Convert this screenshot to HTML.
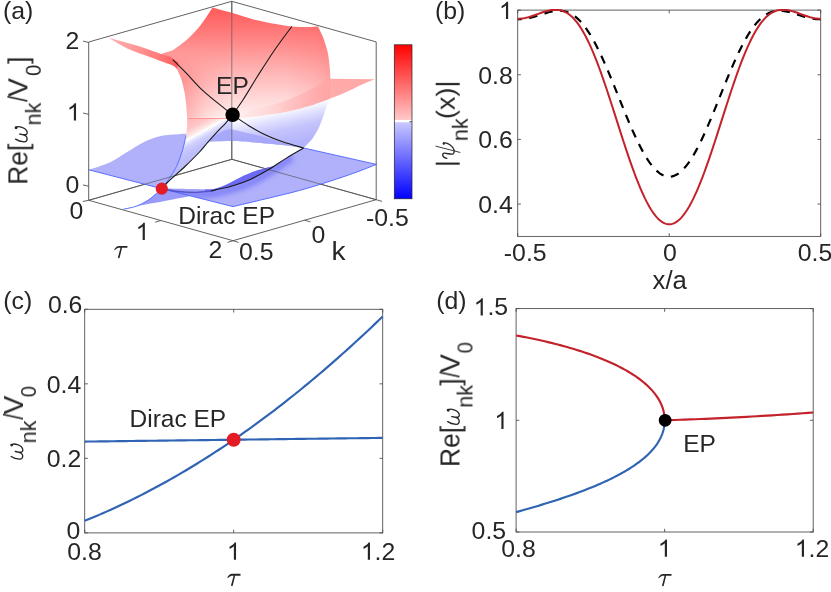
<!DOCTYPE html>
<html><head><meta charset="utf-8"><title>Figure</title>
<style>html,body{margin:0;padding:0;background:#fff;}body{width:831px;height:592px;overflow:hidden;font-family:"Liberation Sans",sans-serif;}svg{display:block;}text{font-family:"Liberation Sans",sans-serif;}</style></head>
<body>
<svg width="831" height="592" viewBox="0 0 831 592" font-family="Liberation Sans, sans-serif">
<rect width="831" height="592" fill="#fff"/>
<defs><filter id="nf" x="-10%" y="-30%" width="120%" height="160%"><feOffset dx="0" dy="0"/></filter></defs>
<defs>
<filter id="b1" x="-20%" y="-50%" width="140%" height="200%"><feGaussianBlur stdDeviation="1.6"/></filter>
<filter id="b2" x="-20%" y="-50%" width="140%" height="200%"><feGaussianBlur stdDeviation="2.5"/></filter>
<filter id="b05" x="-20%" y="-50%" width="140%" height="200%"><feGaussianBlur stdDeviation="0.7"/></filter>
<linearGradient id="gRed" gradientUnits="userSpaceOnUse" x1="0" y1="6" x2="0" y2="118"><stop offset="0" stop-color="#ff5e5e"/><stop offset="0.08" stop-color="#ff6363"/><stop offset="0.30" stop-color="#ff8585"/><stop offset="0.57" stop-color="#ffb2b2"/><stop offset="0.79" stop-color="#ffd3d3"/><stop offset="0.90" stop-color="#ffe2e2"/><stop offset="0.97" stop-color="#fff0f0"/><stop offset="1" stop-color="#fff8f8"/></linearGradient>
<linearGradient id="gRedL" gradientUnits="userSpaceOnUse" x1="178" y1="0" x2="230" y2="0"><stop offset="0" stop-color="#ff6060" stop-opacity="0.52"/><stop offset="0.25" stop-color="#ff6060" stop-opacity="0.34"/><stop offset="0.55" stop-color="#ff6060" stop-opacity="0.15"/><stop offset="1" stop-color="#ff6060" stop-opacity="0"/></linearGradient>
<linearGradient id="gRedR" gradientUnits="userSpaceOnUse" x1="333" y1="0" x2="285" y2="0"><stop offset="0" stop-color="#ff6060" stop-opacity="0.3"/><stop offset="0.4" stop-color="#ff6060" stop-opacity="0.13"/><stop offset="1" stop-color="#ff6060" stop-opacity="0"/></linearGradient>
<linearGradient id="gDiag" gradientUnits="userSpaceOnUse" x1="222.8" y1="97.5" x2="261.5" y2="167.5"><stop offset="0" stop-color="#ffb4b4"/><stop offset="0.14" stop-color="#ffc6c6"/><stop offset="0.215" stop-color="#ffe6e6"/><stop offset="0.25" stop-color="#ffffff"/><stop offset="0.28" stop-color="#e6e6ff"/><stop offset="0.325" stop-color="#cfcffd"/><stop offset="0.40" stop-color="#c0c0fc"/><stop offset="0.56" stop-color="#b8b8fb"/><stop offset="1" stop-color="#b2b2fb"/></linearGradient>
<linearGradient id="gBWr" gradientUnits="userSpaceOnUse" x1="232.5" y1="116" x2="243.65" y2="164.75"><stop offset="0" stop-color="#ffffff"/><stop offset="0.1" stop-color="#fdfdff"/><stop offset="0.3" stop-color="#dedefe"/><stop offset="0.5" stop-color="#c4c4fc"/><stop offset="0.8" stop-color="#b4b4fb"/><stop offset="1" stop-color="#b0b0fb"/></linearGradient>
<linearGradient id="gPinkR" gradientUnits="userSpaceOnUse" x1="235" y1="0" x2="375" y2="0"><stop offset="0" stop-color="#fff2f2"/><stop offset="0.1" stop-color="#ffe6e6"/><stop offset="0.25" stop-color="#ffd6d6"/><stop offset="0.46" stop-color="#ffbaba"/><stop offset="0.64" stop-color="#ffa6a6"/><stop offset="0.69" stop-color="#ffabab"/><stop offset="1" stop-color="#ffa6a6"/></linearGradient>
<linearGradient id="gPinkL" gradientUnits="userSpaceOnUse" x1="108" y1="38" x2="178" y2="66"><stop offset="0" stop-color="#ffb6b6"/><stop offset="0.45" stop-color="#ff9292"/><stop offset="0.8" stop-color="#ff7272"/><stop offset="1" stop-color="#ff5a5a"/></linearGradient>
<linearGradient id="gCB" x1="0" y1="0" x2="0" y2="1"><stop offset="0" stop-color="#ff0000"/><stop offset="0.485" stop-color="#ffc8c8"/><stop offset="0.487" stop-color="#ffffff"/><stop offset="0.503" stop-color="#ffffff"/><stop offset="0.505" stop-color="#c8c8ff"/><stop offset="1" stop-color="#0000ff"/></linearGradient>
<linearGradient id="gMk" gradientUnits="userSpaceOnUse" x1="0" y1="52" x2="0" y2="80"><stop offset="0" stop-color="#000"/><stop offset="1" stop-color="#fff"/></linearGradient><mask id="mL" maskUnits="userSpaceOnUse" x="150" y="0" width="100" height="150"><rect x="150" y="0" width="100" height="150" fill="url(#gMk)"/></mask>
</defs>
<path d="M88.70 200.30 L231.80 159.30 L376.20 199.70 M231.80 159.30 L231.80 1.30" fill="none" stroke="#505050" stroke-width="0.90"/>
<path d=" M88.70 169.80 C92.30 168.53 103.88 165.15 110.30 162.20 C116.72 159.25 121.57 155.47 127.20 152.10 C132.83 148.73 138.47 144.68 144.10 142.00 C149.73 139.32 155.37 137.30 161.00 136.00 C166.63 134.70 173.68 134.57 177.90 134.20 C182.12 133.83 184.90 133.87 186.30 133.80 L186.30 133.80 C186.02 135.17 185.22 139.30 184.60 142.00 C183.98 144.70 183.38 147.33 182.60 150.00 C181.82 152.67 180.92 155.25 179.90 158.00 C178.88 160.75 178.02 163.48 176.50 166.50 C174.98 169.52 173.25 172.40 170.80 176.10 C168.35 179.80 163.30 186.60 161.80 188.70 L88.70 169.80 Z" fill="#b0b0fb"/>
<path d=" M166.00 188.50 C168.33 188.55 175.47 188.70 180.00 188.80 C184.53 188.90 188.38 188.98 193.20 189.10 C198.02 189.22 205.23 189.57 208.90 189.50 C212.57 189.43 212.60 189.35 215.20 188.70 C217.80 188.05 221.53 186.85 224.50 185.60 C227.47 184.35 230.22 182.63 233.00 181.20 C235.78 179.77 237.72 178.60 241.20 177.00 C244.68 175.40 249.98 173.05 253.90 171.60 C257.82 170.15 261.70 169.13 264.70 168.30 C267.70 167.47 269.85 167.28 271.90 166.60 C273.95 165.92 274.58 165.62 277.00 164.20 C279.42 162.78 281.97 160.80 286.40 158.10 C290.83 155.40 300.73 149.68 303.60 148.00 L376.40 164.40 C372.83 165.78 362.73 169.90 355.00 172.70 C347.27 175.50 339.27 178.23 330.00 181.20 C320.73 184.17 310.23 187.53 299.40 190.50 C288.57 193.47 276.07 196.32 265.00 199.00 C253.93 201.68 238.33 205.33 233.00 206.60 L161.80 188.70 Z" fill="#b0b0fb"/>
<clipPath id="cFR"><path d=" M166.00 188.50 C168.33 188.55 175.47 188.70 180.00 188.80 C184.53 188.90 188.38 188.98 193.20 189.10 C198.02 189.22 205.23 189.57 208.90 189.50 C212.57 189.43 212.60 189.35 215.20 188.70 C217.80 188.05 221.53 186.85 224.50 185.60 C227.47 184.35 230.22 182.63 233.00 181.20 C235.78 179.77 237.72 178.60 241.20 177.00 C244.68 175.40 249.98 173.05 253.90 171.60 C257.82 170.15 261.70 169.13 264.70 168.30 C267.70 167.47 269.85 167.28 271.90 166.60 C273.95 165.92 274.58 165.62 277.00 164.20 C279.42 162.78 281.97 160.80 286.40 158.10 C290.83 155.40 300.73 149.68 303.60 148.00 L376.40 164.40 C372.83 165.78 362.73 169.90 355.00 172.70 C347.27 175.50 339.27 178.23 330.00 181.20 C320.73 184.17 310.23 187.53 299.40 190.50 C288.57 193.47 276.07 196.32 265.00 199.00 C253.93 201.68 238.33 205.33 233.00 206.60 L161.80 188.70 Z"/></clipPath>
<g clip-path="url(#cFR)"><path d="M166.00 191.50 C168.33 191.92 175.00 193.42 180.00 194.00 C185.00 194.58 190.33 195.08 196.00 195.00 C201.67 194.92 208.00 194.42 214.00 193.50 C220.00 192.58 226.00 191.25 232.00 189.50 C238.00 187.75 244.50 185.42 250.00 183.00 C255.50 180.58 260.17 177.83 265.00 175.00 C269.83 172.17 274.50 169.00 279.00 166.00 C283.50 163.00 289.83 158.50 292.00 157.00" fill="none" stroke="#7070f7" stroke-width="7.5" stroke-opacity="0.7" filter="url(#b2)"/></g>
<path d=" M205.00 189.60 C206.70 189.45 211.95 189.37 215.20 188.70 C218.45 188.03 221.53 186.85 224.50 185.60 C227.47 184.35 230.22 182.63 233.00 181.20 C235.78 179.77 237.72 178.60 241.20 177.00 C244.68 175.40 249.98 173.05 253.90 171.60 C257.82 170.15 261.70 169.13 264.70 168.30 C267.70 167.47 269.85 167.28 271.90 166.60 C273.95 165.92 276.15 164.60 277.00 164.20 L268.30 169.80 C265.30 171.40 256.32 176.70 250.30 179.40 C244.28 182.10 238.22 184.20 232.20 186.00 C226.18 187.80 218.73 189.33 214.20 190.20 C209.67 191.07 206.53 191.03 205.00 191.20 Z" fill="#6a6af5" filter="url(#b05)"/>
<path d=" M123.30 209.20 C125.42 208.72 131.92 207.77 136.00 206.30 C140.08 204.83 144.42 202.52 147.80 200.40 C151.18 198.28 153.97 195.55 156.30 193.60 C158.63 191.65 160.88 189.52 161.80 188.70 L190.70 196.00 C187.22 196.67 177.52 198.53 169.80 200.00 C162.08 201.47 152.15 203.27 144.40 204.80 C136.65 206.33 126.82 208.47 123.30 209.20 Z" fill="#9a9afa"/>
<path d="M187.00 117.00 L187.20 125.00 C187.05 126.47 186.45 132.33 186.30 133.80 L184.60 142.00 C184.27 143.33 183.38 147.33 182.60 150.00 C181.82 152.67 180.92 155.25 179.90 158.00 C178.88 160.75 178.02 163.48 176.50 166.50 C174.98 169.52 173.25 172.40 170.80 176.10 C168.35 179.80 163.30 186.60 161.80 188.70 L166.90 183.00 C168.25 181.77 171.98 178.35 175.00 175.60 C178.02 172.85 180.92 170.43 185.00 166.50 C189.08 162.57 195.75 155.97 199.50 152.00 C203.25 148.03 206.17 144.25 207.50 142.70 L209.50 141.60 C213.18 141.52 227.92 141.18 231.60 141.10 L232.50 117.00 Z" fill="url(#gDiag)"/>
<path d="M231.60 141.10 L231.00 141.10 C234.38 141.28 242.70 141.55 251.30 142.20 C259.90 142.85 273.88 144.05 282.60 145.00 C291.32 145.95 300.10 147.42 303.60 147.90 L312.10 139.20 C313.03 137.67 316.10 133.08 317.70 130.00 C319.30 126.92 320.43 123.93 321.70 120.70 C322.97 117.47 324.28 113.80 325.30 110.60 C326.32 107.40 327.28 103.38 327.80 101.50 C328.32 99.62 328.30 99.67 328.40 99.30 L320.70 101.90 C319.02 102.50 313.98 104.40 310.60 105.50 C307.22 106.60 303.78 107.57 300.40 108.50 C297.02 109.43 293.68 110.33 290.30 111.10 C286.92 111.87 283.48 112.52 280.10 113.10 C276.72 113.68 275.02 113.90 270.00 114.60 C264.98 115.30 256.25 116.60 250.00 117.30 C243.75 118.00 235.42 118.55 232.50 118.80 L232.50 117.00 Z" fill="url(#gBWr)"/>
<clipPath id="cH"><path d=" M209.50 140.80 C210.42 139.88 212.75 136.93 215.00 135.30 C217.25 133.67 220.58 132.02 223.00 131.00 C225.42 129.98 227.33 129.33 229.50 129.20 C231.67 129.07 233.25 129.60 236.00 130.20 C238.75 130.80 241.17 131.63 246.00 132.80 C250.83 133.97 258.50 135.40 265.00 137.20 C271.50 139.00 278.57 141.82 285.00 143.60 C291.43 145.38 300.50 147.18 303.60 147.90 L303.60 147.90 C300.10 147.42 291.32 145.95 282.60 145.00 C273.88 144.05 259.90 142.85 251.30 142.20 C242.70 141.55 237.97 141.20 231.00 141.10 C224.03 141.00 213.08 141.52 209.50 141.60 Z"/></clipPath>
<path d=" M209.50 140.80 C210.42 139.88 212.75 136.93 215.00 135.30 C217.25 133.67 220.58 132.02 223.00 131.00 C225.42 129.98 227.33 129.33 229.50 129.20 C231.67 129.07 233.25 129.60 236.00 130.20 C238.75 130.80 241.17 131.63 246.00 132.80 C250.83 133.97 258.50 135.40 265.00 137.20 C271.50 139.00 278.57 141.82 285.00 143.60 C291.43 145.38 300.50 147.18 303.60 147.90 L303.60 147.90 C300.10 147.42 291.32 145.95 282.60 145.00 C273.88 144.05 259.90 142.85 251.30 142.20 C242.70 141.55 237.97 141.20 231.00 141.10 C224.03 141.00 213.08 141.52 209.50 141.60 Z" fill="#a2a2fa" fill-opacity="0.8"/>
<path d=" M212.50 7.50 C214.08 7.95 218.77 9.33 222.00 10.20 C225.23 11.07 226.03 11.02 231.90 12.70 C237.77 14.38 248.75 18.20 257.20 20.30 C265.65 22.40 276.83 24.28 282.60 25.30 C288.37 26.32 287.58 26.12 291.80 26.40 C296.02 26.68 303.53 26.98 307.90 27.00 C312.27 27.02 316.32 26.58 318.00 26.50 L323.10 37.20 C323.80 39.45 326.25 46.20 327.30 50.70 C328.35 55.20 328.90 59.52 329.40 64.20 C329.90 68.88 330.27 74.50 330.30 78.80 C330.33 83.10 329.92 86.58 329.60 90.00 C329.28 93.42 328.60 97.75 328.40 99.30 L320.70 101.90 C319.02 102.50 313.98 104.40 310.60 105.50 C307.22 106.60 303.78 107.57 300.40 108.50 C297.02 109.43 293.68 110.33 290.30 111.10 C286.92 111.87 283.48 112.52 280.10 113.10 C276.72 113.68 275.02 113.90 270.00 114.60 C264.98 115.30 256.25 116.60 250.00 117.30 C243.75 118.00 235.42 118.55 232.50 118.80 L187.00 118.60 L187.00 117.50 C186.88 115.58 186.70 110.15 186.30 106.00 C185.90 101.85 185.43 97.10 184.60 92.60 C183.77 88.10 182.57 82.95 181.30 79.00 C180.03 75.05 177.72 70.58 177.00 68.90 L161.00 54.00 L172.80 50.30 C175.05 48.62 182.35 43.58 186.30 40.20 C190.25 36.82 193.55 33.28 196.50 30.00 C199.45 26.72 201.33 24.25 204.00 20.50 C206.67 16.75 211.08 9.67 212.50 7.50 Z" fill="url(#gRed)"/>
<path d=" M212.50 7.50 C214.08 7.95 218.77 9.33 222.00 10.20 C225.23 11.07 226.03 11.02 231.90 12.70 C237.77 14.38 248.75 18.20 257.20 20.30 C265.65 22.40 276.83 24.28 282.60 25.30 C288.37 26.32 287.58 26.12 291.80 26.40 C296.02 26.68 303.53 26.98 307.90 27.00 C312.27 27.02 316.32 26.58 318.00 26.50 L323.10 37.20 C323.80 39.45 326.25 46.20 327.30 50.70 C328.35 55.20 328.90 59.52 329.40 64.20 C329.90 68.88 330.27 74.50 330.30 78.80 C330.33 83.10 329.92 86.58 329.60 90.00 C329.28 93.42 328.60 97.75 328.40 99.30 L320.70 101.90 C319.02 102.50 313.98 104.40 310.60 105.50 C307.22 106.60 303.78 107.57 300.40 108.50 C297.02 109.43 293.68 110.33 290.30 111.10 C286.92 111.87 283.48 112.52 280.10 113.10 C276.72 113.68 275.02 113.90 270.00 114.60 C264.98 115.30 256.25 116.60 250.00 117.30 C243.75 118.00 235.42 118.55 232.50 118.80 L187.00 118.60 L187.00 117.50 C186.88 115.58 186.70 110.15 186.30 106.00 C185.90 101.85 185.43 97.10 184.60 92.60 C183.77 88.10 182.57 82.95 181.30 79.00 C180.03 75.05 177.72 70.58 177.00 68.90 L161.00 54.00 L172.80 50.30 C175.05 48.62 182.35 43.58 186.30 40.20 C190.25 36.82 193.55 33.28 196.50 30.00 C199.45 26.72 201.33 24.25 204.00 20.50 C206.67 16.75 211.08 9.67 212.50 7.50 Z" fill="url(#gRedL)" mask="url(#mL)"/>
<path d=" M212.50 7.50 C214.08 7.95 218.77 9.33 222.00 10.20 C225.23 11.07 226.03 11.02 231.90 12.70 C237.77 14.38 248.75 18.20 257.20 20.30 C265.65 22.40 276.83 24.28 282.60 25.30 C288.37 26.32 287.58 26.12 291.80 26.40 C296.02 26.68 303.53 26.98 307.90 27.00 C312.27 27.02 316.32 26.58 318.00 26.50 L323.10 37.20 C323.80 39.45 326.25 46.20 327.30 50.70 C328.35 55.20 328.90 59.52 329.40 64.20 C329.90 68.88 330.27 74.50 330.30 78.80 C330.33 83.10 329.92 86.58 329.60 90.00 C329.28 93.42 328.60 97.75 328.40 99.30 L320.70 101.90 C319.02 102.50 313.98 104.40 310.60 105.50 C307.22 106.60 303.78 107.57 300.40 108.50 C297.02 109.43 293.68 110.33 290.30 111.10 C286.92 111.87 283.48 112.52 280.10 113.10 C276.72 113.68 275.02 113.90 270.00 114.60 C264.98 115.30 256.25 116.60 250.00 117.30 C243.75 118.00 235.42 118.55 232.50 118.80 L187.00 118.60 L187.00 117.50 C186.88 115.58 186.70 110.15 186.30 106.00 C185.90 101.85 185.43 97.10 184.60 92.60 C183.77 88.10 182.57 82.95 181.30 79.00 C180.03 75.05 177.72 70.58 177.00 68.90 L161.00 54.00 L172.80 50.30 C175.05 48.62 182.35 43.58 186.30 40.20 C190.25 36.82 193.55 33.28 196.50 30.00 C199.45 26.72 201.33 24.25 204.00 20.50 C206.67 16.75 211.08 9.67 212.50 7.50 Z" fill="url(#gRedR)"/>
<clipPath id="cLL"><path d="M187.00 117.00 L187.20 125.00 C187.05 126.47 186.45 132.33 186.30 133.80 L184.60 142.00 C184.27 143.33 183.38 147.33 182.60 150.00 C181.82 152.67 180.92 155.25 179.90 158.00 C178.88 160.75 178.02 163.48 176.50 166.50 C174.98 169.52 173.25 172.40 170.80 176.10 C168.35 179.80 163.30 186.60 161.80 188.70 L166.90 183.00 C168.25 181.77 171.98 178.35 175.00 175.60 C178.02 172.85 180.92 170.43 185.00 166.50 C189.08 162.57 195.75 155.97 199.50 152.00 C203.25 148.03 206.17 144.25 207.50 142.70 L209.50 141.60 C213.18 141.52 227.92 141.18 231.60 141.10 L232.50 117.00 Z"/></clipPath>
<path d="M188 118.8 L231 118.4" stroke="#ff8c8c" stroke-width="3" stroke-opacity="0.85" filter="url(#b05)"/>
<path d=" M232.50 114.20 C235.22 113.53 242.55 111.65 248.80 110.20 C255.05 108.75 264.78 106.80 270.00 105.50 C275.22 104.20 276.72 103.50 280.10 102.40 C283.48 101.30 286.92 100.25 290.30 98.90 C293.68 97.55 297.02 95.90 300.40 94.30 C303.78 92.70 307.22 91.07 310.60 89.30 C313.98 87.53 317.42 85.45 320.70 83.70 C323.98 81.95 328.70 79.62 330.30 78.80 L374.90 79.30 L374.90 79.30 C372.78 80.17 367.13 82.30 362.20 84.50 C357.27 86.70 350.93 90.03 345.30 92.50 C339.67 94.97 331.22 98.17 328.40 99.30 L320.70 101.90 C319.02 102.50 313.98 104.40 310.60 105.50 C307.22 106.60 303.78 107.57 300.40 108.50 C297.02 109.43 293.68 110.33 290.30 111.10 C286.92 111.87 283.48 112.52 280.10 113.10 C276.72 113.68 275.02 113.90 270.00 114.60 C264.98 115.30 256.25 116.60 250.00 117.30 C243.75 118.00 235.42 118.55 232.50 118.80 Z" fill="url(#gPinkR)"/>
<path d="M330.3 78.8 L328.4 99.3" stroke="#ff9c9c" stroke-width="1.2" stroke-opacity="0.5"/>
<path d=" M108.60 37.70 C113.12 38.97 126.97 42.58 135.70 45.30 C144.43 48.02 156.78 52.55 161.00 54.00 L170.00 56.50 C171.42 57.50 177.08 61.50 178.50 62.50 L177.00 68.90 C176.30 68.33 176.87 67.33 172.80 65.50 C168.73 63.67 160.20 60.75 152.60 57.90 C145.00 55.05 134.53 51.77 127.20 48.40 C119.87 45.03 111.70 39.48 108.60 37.70 Z" fill="url(#gPinkL)"/>
<path d="M88.7 169.8 L161.8 188.7 L233 206.6" fill="none" stroke="#4a64ff" stroke-width="0.9"/>
<path d="M376.40 164.40 C372.83 165.78 362.73 169.90 355.00 172.70 C347.27 175.50 339.27 178.23 330.00 181.20 C320.73 184.17 310.23 187.53 299.40 190.50 C288.57 193.47 276.07 196.32 265.00 199.00 C253.93 201.68 238.33 205.33 233.00 206.60" fill="none" stroke="#4a64ff" stroke-width="0.9"/>
<path d="M303.7 148 L376.4 164.4" fill="none" stroke="#4a64ff" stroke-width="0.9"/>
<path d="M123.30 209.20 C125.42 208.72 131.92 207.77 136.00 206.30 C140.08 204.83 144.42 202.52 147.80 200.40 C151.18 198.28 153.97 195.55 156.30 193.60 C158.63 191.65 159.38 191.62 161.80 188.70 C164.22 185.78 168.35 179.80 170.80 176.10 C173.25 172.40 174.98 169.52 176.50 166.50 C178.02 163.48 178.88 160.75 179.90 158.00 C180.92 155.25 181.82 152.67 182.60 150.00 C183.38 147.33 184.03 144.42 184.60 142.00 C185.17 139.58 185.77 136.58 186.00 135.50" fill="none" stroke="#4a64ff" stroke-width="0.9"/>
<path d="M88.70 200.30 L231.80 159.30 L376.20 199.70 M231.80 159.30 L231.80 1.30" fill="none" stroke="#505050" stroke-width="0.90" stroke-opacity="0.7"/>
<path d="M88.70 200.30 L88.70 42.00 L231.80 1.30 L376.20 41.90 L376.20 199.70 M88.70 200.30 L233.00 240.70 L376.20 199.70" fill="none" stroke="#505050" stroke-width="0.90"/>
<path d="M88.70 42.50 L83.00 41.10 M88.70 114.40 L83.00 113.00 M88.70 186.30 L83.00 184.90 M88.70 200.30 L82.80 201.50 M160.90 220.50 L155.20 222.20 M233.00 240.70 L227.50 242.40 M233.00 240.70 L238.60 242.40 M304.60 220.20 L310.40 221.90 M376.20 199.70 L382.00 201.40" fill="none" stroke="#505050" stroke-width="0.90"/>
<path d="M172.80 59.60 C175.05 61.85 181.23 67.88 186.30 73.10 C191.37 78.32 196.75 84.93 203.20 90.90 C209.65 96.87 220.12 104.92 225.00 108.90 C229.88 112.88 231.25 113.82 232.50 114.80" fill="none" stroke="#181818" stroke-width="1.08"/>
<path d="M291.80 26.50 C288.85 30.53 279.87 42.32 274.10 50.70 C268.33 59.08 262.40 68.58 257.20 76.80 C252.00 85.02 247.02 93.67 242.90 100.00 C238.78 106.33 234.23 112.33 232.50 114.80" fill="none" stroke="#181818" stroke-width="1.08"/>
<path d="M232.50 114.80 C231.40 116.13 228.27 120.15 225.90 122.80 C223.53 125.45 221.37 127.38 218.30 130.70 C215.23 134.02 210.63 139.15 207.50 142.70 C204.37 146.25 203.25 148.03 199.50 152.00 C195.75 155.97 189.08 162.57 185.00 166.50 C180.92 170.43 178.02 172.85 175.00 175.60 C171.98 178.35 169.10 180.82 166.90 183.00 C164.70 185.18 162.65 187.75 161.80 188.70" fill="none" stroke="#181818" stroke-width="1.08"/>
<path d="M232.50 114.80 C235.22 116.62 243.27 122.33 248.80 125.70 C254.33 129.07 260.07 132.32 265.70 135.00 C271.33 137.68 276.28 139.63 282.60 141.80 C288.92 143.97 300.10 146.97 303.60 148.00" fill="none" stroke="#181818" stroke-width="1.08"/>
<path d="M166.00 189.60 C168.00 189.92 172.98 191.03 178.00 191.50 C183.02 191.97 191.10 192.42 196.10 192.40 C201.10 192.38 204.68 191.82 208.00 191.40 C211.32 190.98 214.67 190.15 216.00 189.90" fill="none" stroke="#4848c0" stroke-width="1.5" stroke-opacity="0.8" filter="url(#b05)"/>
<path d="M211.00 191.00 C211.53 190.87 210.67 191.03 214.20 190.20 C217.73 189.37 226.18 187.80 232.20 186.00 C238.22 184.20 244.28 182.10 250.30 179.40 C256.32 176.70 262.28 173.35 268.30 169.80 C274.32 166.25 280.52 161.73 286.40 158.10 C292.28 154.47 300.73 149.68 303.60 148.00" fill="none" stroke="#181818" stroke-width="1.08"/>
<circle cx="232.6" cy="114.8" r="7.2" fill="#000"/>
<circle cx="161.8" cy="188.7" r="6.1" fill="#e41a24"/>
<rect x="394.3" y="44.8" width="17.7" height="154" fill="url(#gCB)" stroke="#222" stroke-width="0.7"/>
<path d="M412 121.7 h-2.5" stroke="#222" stroke-width="0.8"/>
<text filter="url(#nf)" transform="translate(2.9 19.2) scale(1.035 1)" font-size="24.00" text-anchor="start" fill="#262626" >(a)</text>
<text filter="url(#nf)" transform="translate(79.3 48.8) scale(1.035 1)" font-size="24.00" text-anchor="end" fill="#262626" >2</text>
<path transform="translate(66.79 120.55) scale(0.01213 -0.01172)" d="M763 0H583V1147Q518 1085 412.5 1023T223 930V1104Q373 1174.5 485 1275T644 1470H763Z" fill="#262626"/>
<text filter="url(#nf)" transform="translate(79.3 193.2) scale(1.035 1)" font-size="24.00" text-anchor="end" fill="#262626" >0</text>
<text filter="url(#nf)" transform="translate(76.3 219.3) scale(1.035 1)" font-size="24.00" text-anchor="middle" fill="#262626" >0</text>
<path transform="translate(135.59 239.95) scale(0.01213 -0.01172)" d="M763 0H583V1147Q518 1085 412.5 1023T223 930V1104Q373 1174.5 485 1275T644 1470H763Z" fill="#262626"/>
<text filter="url(#nf)" transform="translate(215.3 258.2) scale(1.035 1)" font-size="24.00" text-anchor="middle" fill="#262626" >2</text>
<text filter="url(#nf)" transform="translate(256.3 260.0) scale(1.035 1)" font-size="24.00" text-anchor="middle" fill="#262626" >0.5</text>
<text filter="url(#nf)" transform="translate(318.3 242.5) scale(1.035 1)" font-size="24.00" text-anchor="middle" fill="#262626" >0</text>
<text filter="url(#nf)" transform="translate(387.3 226.4) scale(1.035 1)" font-size="24.00" text-anchor="middle" fill="#262626" >-0.5</text>
<text filter="url(#nf)" transform="translate(331.5 259.8) scale(1.080 1)" font-size="26.00" text-anchor="start" fill="#262626" >k</text>
<path transform="translate(113.90 245.90)" d="M13.5 0.15 L13.5 1.95 L8.15 1.95 L5.75 11.7 C5.5 12.5 3.9 12.4 4.05 11.5 L6.6 1.95 L5.0 1.95 C3.5 1.95 2.3 2.9 0.9 4.4 L0.2 3.8 C1.6 1.6 3.0 0.15 5.2 0.15 Z" fill="#262626"/>
<text filter="url(#nf)" transform="translate(216.1 93.5) scale(1.022 1)" font-size="24.00" text-anchor="start" fill="#262626" >EP</text>
<text filter="url(#nf)" transform="translate(178.3 224.3) scale(1.022 1)" font-size="24.00" text-anchor="start" fill="#262626" >Dirac EP</text>
<text filter="url(#nf)" transform="translate(27.40 184.77) rotate(-90) scale(0.980 1)" font-size="27.00" fill="#262626">Re[</text>
<g transform="translate(27.40 142.2) rotate(-90)" fill="none" stroke="#262626" stroke-width="1.35" stroke-linecap="round" stroke-linejoin="round"><path d="M3.1 -11.8 C1.5 -9.5 0.6 -6 0.4 -3.4 C0.3 -1.3 1.7 -0.3 3.5 -0.3 C5.5 -0.3 6.8 -2 7.3 -4 C7.7 -5.6 8 -6.8 8.1 -7.7 C7.6 -5 7.1 -2.6 7.7 -1.1 C8.2 -0.2 9.2 -0.1 10 -0.2 C12.3 -0.6 14 -2.8 14.9 -5.5 C15.6 -7.6 15.9 -9.6 15.1 -10.9"/><circle cx="14.5" cy="-11.3" r="0.8" fill="#262626"/></g>
<text filter="url(#nf)" transform="translate(40.80 125.43) rotate(-90) scale(1.000 1)" font-size="21.50" fill="#262626">nk</text>
<text filter="url(#nf)" transform="translate(27.40 101.80) rotate(-90) scale(0.800 1)" font-size="27.00" fill="#262626">/</text>
<text filter="url(#nf)" transform="translate(27.40 96.82) rotate(-90) scale(1.040 1)" font-size="27.00" fill="#262626">V</text>
<text filter="url(#nf)" transform="translate(40.80 76.00) rotate(-90) scale(0.950 1)" font-size="21.50" fill="#262626">0</text>
<text filter="url(#nf)" transform="translate(27.40 63.91) rotate(-90) scale(0.980 1)" font-size="27.00" fill="#262626">]</text>
<rect x="517.70" y="10.10" width="303.00" height="226.30" fill="none" stroke="#505050" stroke-width="0.9"/>
<path d="M517.70 236.40 v-3.20 M517.70 10.10 v3.20" stroke="#505050" stroke-width="0.9"/>
<path d="M669.20 236.40 v-3.20 M669.20 10.10 v3.20" stroke="#505050" stroke-width="0.9"/>
<path d="M820.70 236.40 v-3.20 M820.70 10.10 v3.20" stroke="#505050" stroke-width="0.9"/>
<path d="M517.70 204.07 h3.20 M820.70 204.07 h-3.20" stroke="#505050" stroke-width="0.9"/>
<path d="M517.70 139.41 h3.20 M820.70 139.41 h-3.20" stroke="#505050" stroke-width="0.9"/>
<path d="M517.70 74.76 h3.20 M820.70 74.76 h-3.20" stroke="#505050" stroke-width="0.9"/>
<path d="M517.70 10.10 h3.20 M820.70 10.10 h-3.20" stroke="#505050" stroke-width="0.9"/>
<clipPath id="cb"><rect x="517.70" y="8.60" width="303.00" height="227.80"/></clipPath>
<path d="M517.70 19.28 L519.22 19.26 L520.73 19.19 L522.25 19.08 L523.76 18.92 L525.28 18.73 L526.79 18.48 L528.31 18.20 L529.82 17.88 L531.34 17.52 L532.85 17.13 L534.37 16.71 L535.88 16.27 L537.39 15.80 L538.91 15.32 L540.43 14.83 L541.94 14.33 L543.46 13.84 L544.97 13.36 L546.49 12.89 L548.00 12.45 L549.52 12.04 L551.03 11.67 L552.55 11.35 L554.06 11.08 L555.58 10.88 L557.09 10.74 L558.61 10.68 L560.12 10.70 L561.63 10.81 L563.15 11.01 L564.67 11.31 L566.18 11.71 L567.70 12.23 L569.21 12.86 L570.73 13.61 L572.24 14.48 L573.75 15.47 L575.27 16.60 L576.79 17.85 L578.30 19.23 L579.82 20.75 L581.33 22.40 L582.85 24.18 L584.36 26.09 L585.88 28.14 L587.39 30.31 L588.91 32.61 L590.42 35.04 L591.94 37.59 L593.45 40.26 L594.97 43.05 L596.48 45.94 L598.00 48.94 L599.51 52.04 L601.03 55.23 L602.54 58.51 L604.06 61.87 L605.57 65.31 L607.09 68.82 L608.60 72.38 L610.12 76.00 L611.63 79.67 L613.15 83.37 L614.66 87.10 L616.18 90.85 L617.69 94.62 L619.21 98.39 L620.72 102.15 L622.24 105.90 L623.75 109.64 L625.27 113.34 L626.78 117.01 L628.30 120.63 L629.81 124.19 L631.33 127.70 L632.84 131.14 L634.36 134.50 L635.87 137.77 L637.39 140.95 L638.90 144.04 L640.42 147.02 L641.93 149.88 L643.45 152.63 L644.96 155.26 L646.48 157.75 L647.99 160.11 L649.50 162.33 L651.02 164.41 L652.54 166.33 L654.05 168.10 L655.57 169.72 L657.08 171.17 L658.60 172.46 L660.11 173.58 L661.62 174.54 L663.14 175.32 L664.66 175.93 L666.17 176.37 L667.69 176.63 L669.20 176.72 L670.72 176.63 L672.23 176.37 L673.75 175.93 L675.26 175.32 L676.78 174.54 L678.29 173.58 L679.81 172.46 L681.32 171.17 L682.84 169.72 L684.35 168.10 L685.87 166.33 L687.38 164.41 L688.90 162.33 L690.41 160.11 L691.93 157.75 L693.44 155.26 L694.96 152.63 L696.47 149.88 L697.99 147.02 L699.50 144.04 L701.01 140.95 L702.53 137.77 L704.05 134.50 L705.56 131.14 L707.08 127.70 L708.59 124.19 L710.11 120.63 L711.62 117.01 L713.13 113.34 L714.65 109.64 L716.17 105.90 L717.68 102.15 L719.20 98.39 L720.71 94.62 L722.23 90.85 L723.74 87.10 L725.26 83.37 L726.77 79.67 L728.29 76.00 L729.80 72.38 L731.32 68.82 L732.83 65.31 L734.35 61.87 L735.86 58.51 L737.38 55.23 L738.89 52.04 L740.41 48.94 L741.92 45.94 L743.44 43.05 L744.95 40.26 L746.47 37.59 L747.98 35.04 L749.50 32.61 L751.01 30.31 L752.53 28.14 L754.04 26.09 L755.56 24.18 L757.07 22.40 L758.59 20.75 L760.10 19.23 L761.62 17.85 L763.13 16.60 L764.65 15.47 L766.16 14.48 L767.68 13.61 L769.19 12.86 L770.71 12.23 L772.22 11.71 L773.74 11.31 L775.25 11.01 L776.77 10.81 L778.28 10.70 L779.80 10.68 L781.31 10.74 L782.83 10.88 L784.34 11.08 L785.86 11.35 L787.37 11.67 L788.88 12.04 L790.40 12.45 L791.92 12.89 L793.43 13.36 L794.95 13.84 L796.46 14.33 L797.98 14.83 L799.49 15.32 L801.01 15.80 L802.52 16.27 L804.04 16.71 L805.55 17.13 L807.07 17.52 L808.58 17.88 L810.10 18.20 L811.61 18.48 L813.12 18.73 L814.64 18.92 L816.15 19.08 L817.67 19.19 L819.19 19.26 L820.70 19.28" fill="none" stroke="#000" stroke-width="2.2" stroke-dasharray="8.5 7.5" stroke-dashoffset="4.5" clip-path="url(#cb)"/>
<path d="M517.70 18.73 L519.22 18.70 L520.73 18.60 L522.25 18.43 L523.76 18.21 L525.28 17.92 L526.79 17.58 L528.31 17.19 L529.82 16.76 L531.34 16.29 L532.85 15.78 L534.37 15.26 L535.88 14.72 L537.39 14.16 L538.91 13.61 L540.43 13.06 L541.94 12.53 L543.46 12.02 L544.97 11.54 L546.49 11.10 L548.00 10.70 L549.52 10.36 L551.03 10.10 L552.55 10.10 L554.06 10.10 L555.58 10.10 L557.09 10.10 L558.61 10.10 L560.12 10.19 L561.63 10.58 L563.15 11.09 L564.67 11.73 L566.18 12.51 L567.70 13.43 L569.21 14.50 L570.73 15.72 L572.24 17.09 L573.75 18.62 L575.27 20.31 L576.79 22.17 L578.30 24.18 L579.82 26.37 L581.33 28.71 L582.85 31.22 L584.36 33.89 L585.88 36.73 L587.39 39.71 L588.91 42.86 L590.42 46.15 L591.94 49.58 L593.45 53.16 L594.97 56.87 L596.48 60.71 L598.00 64.67 L599.51 68.75 L601.03 72.93 L602.54 77.21 L604.06 81.57 L605.57 86.02 L607.09 90.55 L608.60 95.13 L610.12 99.77 L611.63 104.45 L613.15 109.16 L614.66 113.90 L616.18 118.65 L617.69 123.40 L619.21 128.14 L620.72 132.87 L622.24 137.57 L623.75 142.23 L625.27 146.85 L626.78 151.41 L628.30 155.90 L629.81 160.31 L631.33 164.64 L632.84 168.88 L634.36 173.01 L635.87 177.03 L637.39 180.93 L638.90 184.70 L640.42 188.34 L641.93 191.83 L643.45 195.18 L644.96 198.37 L646.48 201.40 L647.99 204.25 L649.50 206.94 L651.02 209.45 L652.54 211.77 L654.05 213.91 L655.57 215.86 L657.08 217.61 L658.60 219.16 L660.11 220.51 L661.62 221.66 L663.14 222.60 L664.66 223.33 L666.17 223.86 L667.69 224.17 L669.20 224.28 L670.72 224.17 L672.23 223.86 L673.75 223.33 L675.26 222.60 L676.78 221.66 L678.29 220.51 L679.81 219.16 L681.32 217.61 L682.84 215.86 L684.35 213.91 L685.87 211.77 L687.38 209.45 L688.90 206.94 L690.41 204.25 L691.93 201.40 L693.44 198.37 L694.96 195.18 L696.47 191.83 L697.99 188.34 L699.50 184.70 L701.01 180.93 L702.53 177.03 L704.05 173.01 L705.56 168.88 L707.08 164.64 L708.59 160.31 L710.11 155.90 L711.62 151.41 L713.13 146.85 L714.65 142.23 L716.17 137.57 L717.68 132.87 L719.20 128.14 L720.71 123.40 L722.23 118.65 L723.74 113.90 L725.26 109.16 L726.77 104.45 L728.29 99.77 L729.80 95.13 L731.32 90.55 L732.83 86.02 L734.35 81.57 L735.86 77.21 L737.38 72.93 L738.89 68.75 L740.41 64.67 L741.92 60.71 L743.44 56.87 L744.95 53.16 L746.47 49.58 L747.98 46.15 L749.50 42.86 L751.01 39.71 L752.53 36.73 L754.04 33.89 L755.56 31.22 L757.07 28.71 L758.59 26.37 L760.10 24.18 L761.62 22.17 L763.13 20.31 L764.65 18.62 L766.16 17.09 L767.68 15.72 L769.19 14.50 L770.71 13.43 L772.22 12.51 L773.74 11.73 L775.25 11.09 L776.77 10.58 L778.28 10.19 L779.80 10.10 L781.31 10.10 L782.83 10.10 L784.34 10.10 L785.86 10.10 L787.37 10.10 L788.88 10.36 L790.40 10.70 L791.92 11.10 L793.43 11.54 L794.95 12.02 L796.46 12.53 L797.98 13.06 L799.49 13.61 L801.01 14.16 L802.52 14.72 L804.04 15.26 L805.55 15.78 L807.07 16.29 L808.58 16.76 L810.10 17.19 L811.61 17.58 L813.12 17.92 L814.64 18.21 L816.15 18.43 L817.67 18.60 L819.19 18.70 L820.70 18.73" fill="none" stroke="#c4222b" stroke-width="2" clip-path="url(#cb)"/>
<text filter="url(#nf)" transform="translate(434.9 19.1) scale(1.035 1)" font-size="24.00" text-anchor="start" fill="#262626" >(b)</text>
<path transform="translate(498.89 19.05) scale(0.01213 -0.01172)" d="M763 0H583V1147Q518 1085 412.5 1023T223 930V1104Q373 1174.5 485 1275T644 1470H763Z" fill="#262626"/>
<text filter="url(#nf)" transform="translate(512.7 83.7) scale(1.035 1)" font-size="24.00" text-anchor="end" fill="#262626" >0.8</text>
<text filter="url(#nf)" transform="translate(512.7 148.4) scale(1.035 1)" font-size="24.00" text-anchor="end" fill="#262626" >0.6</text>
<text filter="url(#nf)" transform="translate(512.7 213.0) scale(1.035 1)" font-size="24.00" text-anchor="end" fill="#262626" >0.4</text>
<text filter="url(#nf)" transform="translate(525.2 260.6) scale(1.035 1)" font-size="24.00" text-anchor="middle" fill="#262626" >-0.5</text>
<text filter="url(#nf)" transform="translate(670.0 260.5) scale(1.035 1)" font-size="24.00" text-anchor="middle" fill="#262626" >0</text>
<text filter="url(#nf)" transform="translate(815.0 260.6) scale(1.035 1)" font-size="24.00" text-anchor="middle" fill="#262626" >0.5</text>
<text filter="url(#nf)" transform="translate(669.7 289.0) scale(1.030 1)" font-size="25.00" text-anchor="middle" fill="#262626" >x/a</text>
<text filter="url(#nf)" transform="translate(454.70 167.02) rotate(-90) scale(1.000 1)" font-size="26.00" fill="#262626">|</text>
<g transform="translate(454.70 163.7) rotate(-90)" fill="none" stroke="#262626" stroke-linecap="round" stroke-linejoin="round"><path d="M5.3 -7.9 C5.8 -9.8 6.8 -11.6 8.4 -12 C9.8 -12.2 10.6 -11.4 10.5 -10 C10.2 -7 9.0 -3.5 9.6 -1.8 C10.2 -0.5 11.5 -0.4 12.7 -0.5 C15 -0.6 17.5 -2.8 19.2 -5.2 C20.5 -7 21.3 -9 20.7 -10.4" stroke-width="1.3"/><path d="M17.5 -18.8 L11.3 5.2" stroke-width="0.9"/><circle cx="20.1" cy="-10.9" r="0.8" fill="#262626"/></g>
<text filter="url(#nf)" transform="translate(467.70 141.13) rotate(-90) scale(1.000 1)" font-size="21.50" fill="#262626">nk</text>
<text filter="url(#nf)" transform="translate(454.70 119.08) rotate(-90) scale(1.040 1)" font-size="26.00" fill="#262626">(x)|</text>
<rect x="84.70" y="309.30" width="298.00" height="223.60" fill="none" stroke="#505050" stroke-width="0.9"/>
<path d="M84.70 532.90 v-3.20 M84.70 309.30 v3.20" stroke="#505050" stroke-width="0.9"/>
<path d="M233.70 532.90 v-3.20 M233.70 309.30 v3.20" stroke="#505050" stroke-width="0.9"/>
<path d="M382.70 532.90 v-3.20 M382.70 309.30 v3.20" stroke="#505050" stroke-width="0.9"/>
<path d="M84.70 532.90 h3.20 M382.70 532.90 h-3.20" stroke="#505050" stroke-width="0.9"/>
<path d="M84.70 458.37 h3.20 M382.70 458.37 h-3.20" stroke="#505050" stroke-width="0.9"/>
<path d="M84.70 383.83 h3.20 M382.70 383.83 h-3.20" stroke="#505050" stroke-width="0.9"/>
<path d="M84.70 309.30 h3.20 M382.70 309.30 h-3.20" stroke="#505050" stroke-width="0.9"/>
<path d="M84.70 441.60 L88.43 441.55 L92.15 441.50 L95.88 441.46 L99.60 441.41 L103.33 441.36 L107.05 441.32 L110.78 441.27 L114.50 441.22 L118.23 441.18 L121.95 441.13 L125.67 441.08 L129.40 441.04 L133.12 440.99 L136.85 440.94 L140.57 440.90 L144.30 440.85 L148.02 440.80 L151.75 440.76 L155.47 440.71 L159.20 440.66 L162.92 440.62 L166.65 440.57 L170.38 440.53 L174.10 440.48 L177.82 440.43 L181.55 440.39 L185.28 440.34 L189.00 440.29 L192.73 440.25 L196.45 440.20 L200.18 440.15 L203.90 440.11 L207.63 440.06 L211.35 440.01 L215.07 439.97 L218.80 439.92 L222.52 439.87 L226.25 439.83 L229.97 439.78 L233.70 439.73 L237.42 439.69 L241.15 439.64 L244.88 439.59 L248.60 439.55 L252.32 439.50 L256.05 439.45 L259.77 439.41 L263.50 439.36 L267.22 439.31 L270.95 439.27 L274.67 439.22 L278.40 439.17 L282.12 439.13 L285.85 439.08 L289.57 439.03 L293.30 438.99 L297.02 438.94 L300.75 438.89 L304.47 438.85 L308.20 438.80 L311.92 438.76 L315.65 438.71 L319.37 438.66 L323.10 438.62 L326.82 438.57 L330.55 438.52 L334.27 438.48 L338.00 438.43 L341.72 438.38 L345.45 438.34 L349.17 438.29 L352.90 438.24 L356.62 438.20 L360.35 438.15 L364.07 438.10 L367.80 438.06 L371.52 438.01 L375.25 437.96 L378.98 437.92 L382.70 437.87" fill="none" stroke="#2f63b3" stroke-width="2.15"/>
<path d="M84.70 520.84 L88.43 519.33 L92.15 517.79 L95.88 516.22 L99.60 514.63 L103.33 513.01 L107.05 511.36 L110.78 509.69 L114.50 507.99 L118.23 506.27 L121.95 504.52 L125.67 502.74 L129.40 500.93 L133.12 499.10 L136.85 497.25 L140.57 495.37 L144.30 493.46 L148.02 491.52 L151.75 489.56 L155.47 487.57 L159.20 485.56 L162.92 483.52 L166.65 481.45 L170.38 479.35 L174.10 477.23 L177.82 475.09 L181.55 472.92 L185.28 470.72 L189.00 468.49 L192.73 466.24 L196.45 463.96 L200.18 461.66 L203.90 459.33 L207.63 456.97 L211.35 454.59 L215.07 452.18 L218.80 449.74 L222.52 447.28 L226.25 444.79 L229.97 442.27 L233.70 439.73 L237.42 437.17 L241.15 434.57 L244.88 431.95 L248.60 429.30 L252.32 426.63 L256.05 423.93 L259.77 421.21 L263.50 418.45 L267.22 415.67 L270.95 412.87 L274.67 410.04 L278.40 407.18 L282.12 404.30 L285.85 401.39 L289.57 398.45 L293.30 395.49 L297.02 392.50 L300.75 389.48 L304.47 386.44 L308.20 383.37 L311.92 380.28 L315.65 377.16 L319.37 374.01 L323.10 370.83 L326.82 367.63 L330.55 364.41 L334.27 361.15 L338.00 357.88 L341.72 354.57 L345.45 351.24 L349.17 347.88 L352.90 344.50 L356.62 341.08 L360.35 337.65 L364.07 334.18 L367.80 330.69 L371.52 327.18 L375.25 323.63 L378.98 320.07 L382.70 316.47" fill="none" stroke="#2f63b3" stroke-width="2.15"/>
<circle cx="233.70" cy="439.73" r="7.0" fill="#e41a24"/>
<text filter="url(#nf)" transform="translate(3.2 309.1) scale(1.035 1)" font-size="24.00" text-anchor="start" fill="#262626" >(c)</text>
<text filter="url(#nf)" transform="translate(80.2 538.8) scale(1.035 1)" font-size="24.00" text-anchor="end" fill="#262626" >0</text>
<text filter="url(#nf)" transform="translate(81.2 467.0) scale(1.035 1)" font-size="24.00" text-anchor="end" fill="#262626" >0.2</text>
<text filter="url(#nf)" transform="translate(81.2 392.5) scale(1.035 1)" font-size="24.00" text-anchor="end" fill="#262626" >0.4</text>
<text filter="url(#nf)" transform="translate(82.4 312.8) scale(1.035 1)" font-size="24.00" text-anchor="end" fill="#262626" >0.6</text>
<text filter="url(#nf)" transform="translate(84.5 559.6) scale(1.035 1)" font-size="24.00" text-anchor="middle" fill="#262626" >0.8</text>
<path transform="translate(226.79 559.65) scale(0.01213 -0.01172)" d="M763 0H583V1147Q518 1085 412.5 1023T223 930V1104Q373 1174.5 485 1275T644 1470H763Z" fill="#262626"/>
<path transform="translate(360.74 559.65) scale(0.01213 -0.01172)" d="M763 0H583V1147Q518 1085 412.5 1023T223 930V1104Q373 1174.5 485 1275T644 1470H763Z" fill="#262626"/>
<text filter="url(#nf)" transform="translate(374.55 559.65) scale(1.035 1)" font-size="24.00" fill="#262626">.</text>
<text filter="url(#nf)" transform="translate(381.45 559.65) scale(1.035 1)" font-size="24.00" fill="#262626">2</text>
<path transform="translate(227.00 573.70)" d="M13.5 0.15 L13.5 1.95 L8.15 1.95 L5.75 11.7 C5.5 12.5 3.9 12.4 4.05 11.5 L6.6 1.95 L5.0 1.95 C3.5 1.95 2.3 2.9 0.9 4.4 L0.2 3.8 C1.6 1.6 3.0 0.15 5.2 0.15 Z" fill="#262626"/>
<text filter="url(#nf)" transform="translate(129.5 427.1) scale(1.022 1)" font-size="24.00" text-anchor="start" fill="#262626" >Dirac EP</text>
<g transform="translate(23.00 459.6) rotate(-90)" fill="none" stroke="#262626" stroke-width="1.35" stroke-linecap="round" stroke-linejoin="round"><path d="M3.1 -11.8 C1.5 -9.5 0.6 -6 0.4 -3.4 C0.3 -1.3 1.7 -0.3 3.5 -0.3 C5.5 -0.3 6.8 -2 7.3 -4 C7.7 -5.6 8 -6.8 8.1 -7.7 C7.6 -5 7.1 -2.6 7.7 -1.1 C8.2 -0.2 9.2 -0.1 10 -0.2 C12.3 -0.6 14 -2.8 14.9 -5.5 C15.6 -7.6 15.9 -9.6 15.1 -10.9"/><circle cx="14.5" cy="-11.3" r="0.8" fill="#262626"/></g>
<text filter="url(#nf)" transform="translate(36.00 443.33) rotate(-90) scale(1.000 1)" font-size="21.50" fill="#262626">nk</text>
<text filter="url(#nf)" transform="translate(23.00 419.60) rotate(-90) scale(0.800 1)" font-size="27.00" fill="#262626">/</text>
<text filter="url(#nf)" transform="translate(23.00 414.42) rotate(-90) scale(1.040 1)" font-size="27.00" fill="#262626">V</text>
<text filter="url(#nf)" transform="translate(36.00 397.30) rotate(-90) scale(0.950 1)" font-size="21.50" fill="#262626">0</text>
<rect x="516.10" y="308.60" width="297.10" height="223.40" fill="none" stroke="#505050" stroke-width="0.9"/>
<path d="M516.10 532.00 v-3.20 M516.10 308.60 v3.20" stroke="#505050" stroke-width="0.9"/>
<path d="M664.65 532.00 v-3.20 M664.65 308.60 v3.20" stroke="#505050" stroke-width="0.9"/>
<path d="M813.20 532.00 v-3.20 M813.20 308.60 v3.20" stroke="#505050" stroke-width="0.9"/>
<path d="M516.10 532.00 h3.20 M813.20 532.00 h-3.20" stroke="#505050" stroke-width="0.9"/>
<path d="M516.10 420.30 h3.20 M813.20 420.30 h-3.20" stroke="#505050" stroke-width="0.9"/>
<path d="M516.10 308.60 h3.20 M813.20 308.60 h-3.20" stroke="#505050" stroke-width="0.9"/>
<path d="M664.65 420.30 L664.63 421.68 L664.55 423.04 L664.44 424.41 L664.27 425.76 L664.05 427.11 L663.79 428.45 L663.48 429.79 L663.13 431.12 L662.72 432.44 L662.27 433.76 L661.77 435.07 L661.22 436.37 L660.63 437.67 L659.98 438.96 L659.29 440.24 L658.56 441.52 L657.77 442.79 L656.94 444.05 L656.06 445.31 L655.13 446.57 L654.15 447.81 L653.13 449.05 L652.06 450.29 L650.94 451.52 L649.77 452.74 L648.56 453.95 L647.30 455.17 L645.99 456.37 L644.63 457.57 L643.23 458.76 L641.78 459.95 L640.28 461.13 L638.73 462.31 L637.13 463.48 L635.49 464.65 L633.80 465.81 L632.06 466.96 L630.28 468.11 L628.45 469.26 L626.57 470.40 L624.64 471.53 L622.66 472.67 L620.64 473.79 L618.57 474.91 L616.45 476.03 L614.28 477.14 L612.07 478.25 L609.81 479.35 L607.50 480.45 L605.14 481.55 L602.74 482.64 L600.29 483.73 L597.79 484.81 L595.24 485.90 L592.65 486.97 L590.01 488.05 L587.32 489.12 L584.58 490.19 L581.79 491.25 L578.96 492.31 L576.08 493.37 L573.15 494.43 L570.18 495.48 L567.16 496.53 L564.09 497.58 L560.97 498.63 L557.80 499.68 L554.59 500.72 L551.33 501.76 L548.02 502.80 L544.66 503.84 L541.26 504.88 L537.81 505.92 L534.31 506.96 L530.76 507.99 L527.17 509.03 L523.53 510.06 L519.84 511.10 L516.10 512.13" fill="none" stroke="#2f63b3" stroke-width="2.15"/>
<path d="M516.10 335.44 L519.84 336.13 L523.53 336.83 L527.17 337.54 L530.76 338.27 L534.31 339.01 L537.81 339.76 L541.26 340.53 L544.66 341.30 L548.02 342.09 L551.33 342.89 L554.59 343.70 L557.80 344.53 L560.97 345.36 L564.09 346.21 L567.16 347.07 L570.18 347.94 L573.15 348.82 L576.08 349.71 L578.96 350.61 L581.79 351.52 L584.58 352.44 L587.32 353.37 L590.01 354.31 L592.65 355.26 L595.24 356.23 L597.79 357.20 L600.29 358.18 L602.74 359.17 L605.14 360.17 L607.50 361.18 L609.81 362.20 L612.07 363.22 L614.28 364.26 L616.45 365.30 L618.57 366.36 L620.64 367.42 L622.66 368.49 L624.64 369.57 L626.57 370.66 L628.45 371.76 L630.28 372.86 L632.06 373.97 L633.80 375.09 L635.49 376.22 L637.13 377.36 L638.73 378.50 L640.28 379.65 L641.78 380.81 L643.23 381.98 L644.63 383.16 L645.99 384.34 L647.30 385.53 L648.56 386.73 L649.77 387.93 L650.94 389.14 L652.06 390.36 L653.13 391.59 L654.15 392.82 L655.13 394.06 L656.06 395.31 L656.94 396.56 L657.77 397.83 L658.56 399.09 L659.29 400.37 L659.98 401.65 L660.63 402.94 L661.22 404.23 L661.77 405.54 L662.27 406.85 L662.72 408.16 L663.13 409.48 L663.48 410.81 L663.79 412.15 L664.05 413.49 L664.27 414.84 L664.44 416.19 L664.55 417.56 L664.63 418.92 L664.65 420.30 L664.65 420.30 L669.77 420.14 L674.89 419.98 L680.02 419.80 L685.14 419.62 L690.26 419.43 L695.38 419.23 L700.51 419.03 L705.63 418.81 L710.75 418.59 L715.87 418.36 L721.00 418.12 L726.12 417.88 L731.24 417.62 L736.36 417.36 L741.49 417.09 L746.61 416.81 L751.73 416.53 L756.85 416.24 L761.98 415.93 L767.10 415.62 L772.22 415.31 L777.34 414.98 L782.47 414.65 L787.59 414.31 L792.71 413.96 L797.83 413.60 L802.96 413.24 L808.08 412.86 L813.20 412.48" fill="none" stroke="#c4222b" stroke-width="2.15"/>
<circle cx="665.15" cy="420.30" r="6.4" fill="#000"/>
<text filter="url(#nf)" transform="translate(436.2 309.4) scale(1.035 1)" font-size="24.00" text-anchor="start" fill="#262626" >(d)</text>
<path transform="translate(473.57 315.45) scale(0.01213 -0.01172)" d="M763 0H583V1147Q518 1085 412.5 1023T223 930V1104Q373 1174.5 485 1275T644 1470H763Z" fill="#262626"/>
<text filter="url(#nf)" transform="translate(487.38 315.45) scale(1.035 1)" font-size="24.00" fill="#262626">.</text>
<text filter="url(#nf)" transform="translate(494.29 315.45) scale(1.035 1)" font-size="24.00" fill="#262626">5</text>
<path transform="translate(494.29 428.95) scale(0.01213 -0.01172)" d="M763 0H583V1147Q518 1085 412.5 1023T223 930V1104Q373 1174.5 485 1275T644 1470H763Z" fill="#262626"/>
<text filter="url(#nf)" transform="translate(506.1 539.4) scale(1.035 1)" font-size="24.00" text-anchor="end" fill="#262626" >0.5</text>
<text filter="url(#nf)" transform="translate(518.5 556.6) scale(1.035 1)" font-size="24.00" text-anchor="middle" fill="#262626" >0.8</text>
<path transform="translate(657.74 556.65) scale(0.01213 -0.01172)" d="M763 0H583V1147Q518 1085 412.5 1023T223 930V1104Q373 1174.5 485 1275T644 1470H763Z" fill="#262626"/>
<path transform="translate(794.74 556.65) scale(0.01213 -0.01172)" d="M763 0H583V1147Q518 1085 412.5 1023T223 930V1104Q373 1174.5 485 1275T644 1470H763Z" fill="#262626"/>
<text filter="url(#nf)" transform="translate(808.55 556.65) scale(1.035 1)" font-size="24.00" fill="#262626">.</text>
<text filter="url(#nf)" transform="translate(815.45 556.65) scale(1.035 1)" font-size="24.00" fill="#262626">2</text>
<path transform="translate(658.00 573.90)" d="M13.5 0.15 L13.5 1.95 L8.15 1.95 L5.75 11.7 C5.5 12.5 3.9 12.4 4.05 11.5 L6.6 1.95 L5.0 1.95 C3.5 1.95 2.3 2.9 0.9 4.4 L0.2 3.8 C1.6 1.6 3.0 0.15 5.2 0.15 Z" fill="#262626"/>
<text filter="url(#nf)" transform="translate(683.2 451.8) scale(1.022 1)" font-size="24.00" text-anchor="start" fill="#262626" >EP</text>
<text filter="url(#nf)" transform="translate(459.50 466.97) rotate(-90) scale(0.980 1)" font-size="27.00" fill="#262626">Re[</text>
<g transform="translate(459.50 424.7) rotate(-90)" fill="none" stroke="#262626" stroke-width="1.35" stroke-linecap="round" stroke-linejoin="round"><path d="M3.1 -11.8 C1.5 -9.5 0.6 -6 0.4 -3.4 C0.3 -1.3 1.7 -0.3 3.5 -0.3 C5.5 -0.3 6.8 -2 7.3 -4 C7.7 -5.6 8 -6.8 8.1 -7.7 C7.6 -5 7.1 -2.6 7.7 -1.1 C8.2 -0.2 9.2 -0.1 10 -0.2 C12.3 -0.6 14 -2.8 14.9 -5.5 C15.6 -7.6 15.9 -9.6 15.1 -10.9"/><circle cx="14.5" cy="-11.3" r="0.8" fill="#262626"/></g>
<text filter="url(#nf)" transform="translate(472.50 407.73) rotate(-90) scale(1.000 1)" font-size="21.50" fill="#262626">nk</text>
<text filter="url(#nf)" transform="translate(459.50 385.71) rotate(-90) scale(0.980 1)" font-size="27.00" fill="#262626">]</text>
<text filter="url(#nf)" transform="translate(459.50 377.50) rotate(-90) scale(0.800 1)" font-size="27.00" fill="#262626">/</text>
<text filter="url(#nf)" transform="translate(459.50 372.82) rotate(-90) scale(1.040 1)" font-size="27.00" fill="#262626">V</text>
<text filter="url(#nf)" transform="translate(472.50 353.40) rotate(-90) scale(0.950 1)" font-size="21.50" fill="#262626">0</text>
</svg>
</body></html>
